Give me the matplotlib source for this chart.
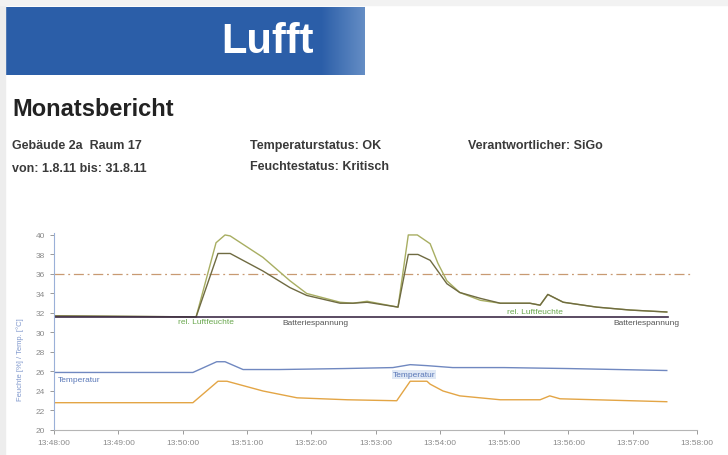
import numpy as np
import matplotlib
matplotlib.use("Agg")
import matplotlib.pyplot as plt
from matplotlib.patches import Rectangle

plt.rcParams['font.family'] = ['Liberation Sans', 'DejaVu Sans']

W, H = 728, 456

# Minuten nach 13:48:00
tick_labels = ['13:48:00', '13:49:00', '13:50:00', '13:51:00', '13:52:00', '13:53:00',
               '13:54:00', '13:55:00', '13:56:00', '13:57:00', '13:58:00']

t_feuchte_a = [0, 2.21, 2.55, 2.74, 3.25, 3.67, 3.93, 4.45, 4.65, 4.87, 5.35, 5.51, 5.66,
               5.85, 6.11, 6.31, 6.63, 6.94, 7.40, 7.56, 7.68, 7.92, 8.44, 8.96, 9.53]
feuchte_a = [31.7, 31.6, 38.1, 38.1, 36.3, 34.6, 33.8, 33.0, 33.0, 33.1, 32.6, 38.0, 38.0,
             37.4, 35.0, 34.1, 33.5, 33.0, 33.0, 32.8, 33.9, 33.1, 32.6, 32.3, 32.1]

t_feuchte_b = [0, 2.21, 2.52, 2.66, 2.74, 3.25, 3.67, 3.93, 4.45, 4.65, 4.87, 5.35, 5.51,
               5.65, 5.85, 5.97, 6.11, 6.31, 6.63, 6.94, 7.40, 7.56, 7.68, 7.92, 8.44, 8.96, 9.53]
feuchte_b = [31.7, 31.6, 39.2, 40.0, 39.9, 37.7, 35.3, 34.0, 33.1, 33.0, 33.2, 32.6, 40.0,
             40.0, 39.1, 37.1, 35.3, 34.1, 33.3, 33.0, 33.0, 32.8, 33.9, 33.1, 32.6, 32.3, 32.1]

t_temp_a = [0, 2.16, 2.53, 2.66, 2.94, 3.5, 4.5, 5.27, 5.54, 5.80, 6.2, 7.0, 8.0, 9.53]
temp_a = [25.9, 25.9, 27.0, 27.0, 26.2, 26.2, 26.3, 26.4, 26.7, 26.6, 26.4, 26.4, 26.3, 26.1]

t_temp_b = [0, 2.16, 2.55, 2.69, 3.25, 3.78, 4.56, 5.33, 5.54, 5.80, 5.85, 6.05, 6.31,
            6.94, 7.56, 7.71, 7.87, 9.53]
temp_b = [22.8, 22.8, 25.0, 25.0, 24.0, 23.3, 23.1, 23.0, 25.0, 25.0, 24.7, 24.0, 23.5,
          23.1, 23.1, 23.5, 23.2, 22.9]

batterie_t = [0, 9.55]
batterie = [31.6, 31.6]
grenzwert_t = [0, 9.9]
grenzwert = [36, 36]

fig = plt.figure(figsize=(W / 100, H / 100), dpi=100)
fig.patch.set_facecolor('white')

def box(x0, y0, x1, y1):
    return [x0 / W, 1 - y1 / H, (x1 - x0) / W, (y1 - y0) / H]

# Rahmen links / oben
fig.patches.append(Rectangle((0, 0), 5 / W, 1, transform=fig.transFigure, color='#ededed', zorder=0))
fig.patches.append(Rectangle((0, 1 - 6 / H), 1, 6 / H, transform=fig.transFigure, color='#f2f2f2', zorder=0))

# Banner
ban = fig.add_axes(box(5, 8, 365, 76))
ban.set_axis_off()
grad = np.linspace(0, 1, 360)
c0 = np.array([0.17, 0.37, 0.66])
c1 = np.array([0.45, 0.60, 0.80])
mix = np.clip((grad - 0.88) / 0.12, 0, 1)[:, None] * 0.8
row = c0 * (1 - mix) + c1 * mix
img = np.repeat(row[None, :, :], 20, axis=0)
ban.imshow(img, aspect='auto', extent=[0, 1, 0, 1])
ban.text(0.73, 0.5, 'Lufft', color='white', fontsize=30, fontweight='bold',
         ha='center', va='center', transform=ban.transAxes)

# Kopftexte
fig.text(12 / W, 1 - 109 / H, 'Monatsbericht', fontsize=17, fontweight='bold',
         color='#222222', va='center')
info = [(12, 146, 'Gebäude 2a  Raum 17'), (12, 169, 'von: 1.8.11 bis: 31.8.11'),
        (250, 146, 'Temperaturstatus: OK'), (250, 167, 'Feuchtestatus: Kritisch'),
        (468, 146, 'Verantwortlicher: SiGo')]
for x, y, s in info:
    fig.text(x / W, 1 - y / H, s, fontsize=9, fontweight='bold', color='#3a3a3a', va='center')

# Diagramm
ax = fig.add_axes(box(54, 234, 697, 431))
ax.plot(grenzwert_t, grenzwert, color='#c89a72', lw=0.9, ls=(0, (8, 3, 1.5, 3)))
ax.plot(t_temp_a, temp_a, color='#7088c0', lw=1.0)
ax.plot(t_temp_b, temp_b, color='#e3a545', lw=1.0)
ax.plot(t_feuchte_b, feuchte_b, color='#a8ae62', lw=1.0)
ax.plot(t_feuchte_a, feuchte_a, color='#6f6b42', lw=1.0)
ax.plot(batterie_t, batterie, color='#3e2c48', lw=1.2)

ax.set_xlim(0, 10)
ax.set_ylim(20, 40.2)
ax.set_xticks(range(11))
ax.set_xticklabels(tick_labels)
ax.set_yticks(range(20, 41, 2))
ax.tick_params(labelsize=6, colors='#8a8a8a', length=3, width=0.6)
for s in ['top', 'right']:
    ax.spines[s].set_visible(False)
ax.spines['left'].set_color('#9ab0d8')
ax.spines['bottom'].set_color('#b5b5b5')
ax.patch.set_alpha(0)

lbl = dict(fontsize=6, va='center')
ax.text(1.93, 31.1, 'rel. Luftfeuchte', color='#6aa84f', **lbl)
ax.text(3.55, 31.0, 'Batteriespannung', color='#555555', **lbl)
ax.text(7.05, 32.1, 'rel. Luftfeuchte', color='#6aa84f', **lbl)
ax.text(8.7, 31.0, 'Batteriespannung', color='#555555', **lbl)
ax.text(0.06, 25.2, 'Temperatur', color='#5a78b8', **lbl)
ax.text(5.27, 25.7, 'Temperatur', color='#5a78b8',
        bbox=dict(boxstyle='square,pad=0.1', fc='#dfe8f5', ec='none'), **lbl)

fig.text(20 / W, 1 - 360 / H, 'Feuchte [%] / Temp. [°C]', rotation=90, fontsize=5.5,
         color='#7f97cc', ha='center', va='center')

fig.savefig('out.png', dpi=100)
